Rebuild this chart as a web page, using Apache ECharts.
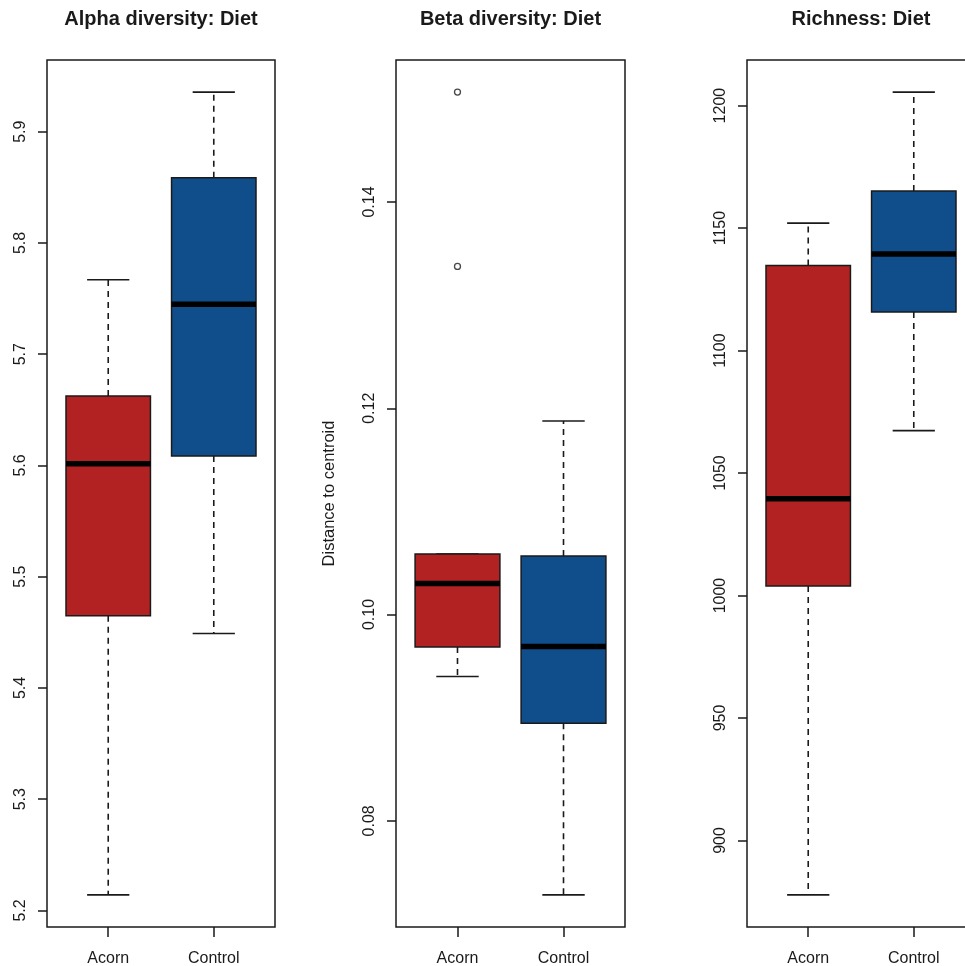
<!DOCTYPE html>
<html><head><meta charset="utf-8">
<script src="https://cdn.jsdelivr.net/npm/echarts@6/dist/echarts.min.js"></script>
<style>html,body{margin:0;padding:0;background:#fff}#c{width:965px;height:966px}</style>
</head><body><div id="c"></div>
<script>
// ---- data (five-number summaries: lower whisker, Q1, median, Q3, upper whisker) ----
const categories = ['Acorn', 'Control'];
const titles = ['Alpha diversity: Diet', 'Beta diversity: Diet', 'Richness: Diet'];
const betaAxisName = 'Distance to centroid';

const alphaAcorn   = [5.214, 5.465, 5.6015, 5.6625, 5.767];
const alphaControl = [5.449, 5.6085, 5.745, 5.8586, 5.9356];

const betaAcorn    = [0.0940, 0.09685, 0.1030, 0.10586, 0.10586];
const betaControl  = [0.07282, 0.08947, 0.09691, 0.10567, 0.11877];
const betaAcornOutliers = [0.15065, 0.13375];

const richAcorn    = [877.8, 1003.9, 1039.5, 1134.7, 1152.0];
const richControl  = [1067.3, 1115.7, 1139.4, 1165.1, 1205.5];

const alphaTicks = [5.2, 5.3, 5.4, 5.5, 5.6, 5.7, 5.8, 5.9];
const betaTicks  = [0.08, 0.10, 0.12, 0.14];
const richTicks  = [900, 950, 1000, 1050, 1100, 1150, 1200];

// ---- styling ----
const boxColors = ['#B22222', '#104E8B'];
const FONT = '"Liberation Sans", Arial, sans-serif';
const INK = '#1a1a1a';

const panels = [
  { left: 47,  width: 228, ticks: alphaTicks, dec: 1, series: [alphaAcorn, alphaControl], outliers: [[], []] },
  { left: 396, width: 229, ticks: betaTicks,  dec: 2, series: [betaAcorn, betaControl], outliers: [betaAcornOutliers, []], name: betaAxisName },
  { left: 747, width: 228, ticks: richTicks,  dec: 0, series: [richAcorn, richControl], outliers: [[], []] }
];

const chart = echarts.init(document.getElementById('c'), null, { renderer: 'canvas' });

function renderBox(params, api) {
  const x = api.value(0);
  const lo = api.coord([x, api.value(1)]);
  const q1 = api.coord([x, api.value(2)]);
  const md = api.coord([x, api.value(3)]);
  const q3 = api.coord([x, api.value(4)]);
  const hi = api.coord([x, api.value(5)]);
  const cx = lo[0];
  const half = api.size([0.8, 0])[0] / 2;
  const capHalf = half / 2;
  const color = boxColors[x - 1];
  const dash = { stroke: INK, lineWidth: 1.6, lineDash: [6, 5] };
  const solid = { stroke: INK, lineWidth: 1.6 };
  return {
    type: 'group',
    children: [
      { type: 'line', shape: { x1: cx, y1: q3[1], x2: cx, y2: hi[1] }, style: dash },
      { type: 'line', shape: { x1: cx, y1: q1[1], x2: cx, y2: lo[1] }, style: dash },
      { type: 'line', shape: { x1: cx - capHalf, y1: hi[1], x2: cx + capHalf, y2: hi[1] }, style: solid },
      { type: 'line', shape: { x1: cx - capHalf, y1: lo[1], x2: cx + capHalf, y2: lo[1] }, style: solid },
      { type: 'rect', shape: { x: cx - half, y: q3[1], width: 2 * half, height: q1[1] - q3[1] },
        style: { fill: color, stroke: INK, lineWidth: 1.5 } },
      { type: 'line', shape: { x1: cx - half, y1: md[1], x2: cx + half, y2: md[1] },
        style: { stroke: '#000', lineWidth: 5.5 } }
    ]
  };
}

const grids = [], xAxes = [], yAxes = [], series = [], titleOpts = [];
panels.forEach((p, i) => {
  grids.push({ left: p.left, top: 60, width: p.width, height: 867, show: true,
    outerBoundsMode: 'none', containLabel: false,
    borderColor: INK, borderWidth: 1.5, backgroundColor: 'transparent' });
  titleOpts.push({ text: titles[i], left: p.left + p.width / 2, top: 9, textAlign: 'center', padding: 0,
    textStyle: { fontFamily: FONT, fontSize: 20, fontWeight: 'bold', color: INK } });
  xAxes.push({ type: 'value', gridIndex: i, min: 0.42, max: 2.58,
    axisLine: { show: false }, splitLine: { show: false },
    axisTick: { show: true, length: 10, customValues: [1, 2], lineStyle: { color: INK, width: 1.5 } },
    axisLabel: { customValues: [1, 2], margin: 24, formatter: v => categories[Math.round(v) - 1],
      fontFamily: FONT, fontSize: 16, color: INK } });
  const all = p.series.flat().concat(p.outliers.flat());
  const lo = Math.min(...all), hi = Math.max(...all);
  const pad = (hi - lo) * 0.04;
  yAxes.push({ type: 'value', gridIndex: i, min: lo - pad, max: hi + pad,
    axisLine: { show: false }, splitLine: { show: false },
    axisTick: { show: true, length: 9, customValues: p.ticks, lineStyle: { color: INK, width: 1.5 } },
    axisLabel: { customValues: p.ticks, rotate: 90, margin: 18, formatter: v => v.toFixed(p.dec),
      fontFamily: FONT, fontSize: 16, color: INK },
    name: p.name || '', nameLocation: 'middle', nameRotate: 90, nameGap: 58,
    nameTextStyle: { fontFamily: FONT, fontSize: 16.5, color: INK } });
  series.push({ type: 'custom', xAxisIndex: i, yAxisIndex: i, renderItem: renderBox,
    encode: { x: 0, y: [1, 2, 3, 4, 5] }, silent: true,
    data: p.series.map((s, k) => [k + 1].concat(s)) });
  const pts = [];
  p.outliers.forEach((arr, k) => arr.forEach(v => pts.push([k + 1, v])));
  if (pts.length) {
    series.push({ type: 'scatter', xAxisIndex: i, yAxisIndex: i, symbol: 'circle', symbolSize: 6,
      itemStyle: { color: 'transparent', borderColor: INK, borderWidth: 1.3 }, silent: true, data: pts });
  }
});

chart.setOption({
  animation: false,
  backgroundColor: '#fff',
  title: titleOpts,
  grid: grids,
  xAxis: xAxes,
  yAxis: yAxes,
  series: series
});
</script>
</body></html>
